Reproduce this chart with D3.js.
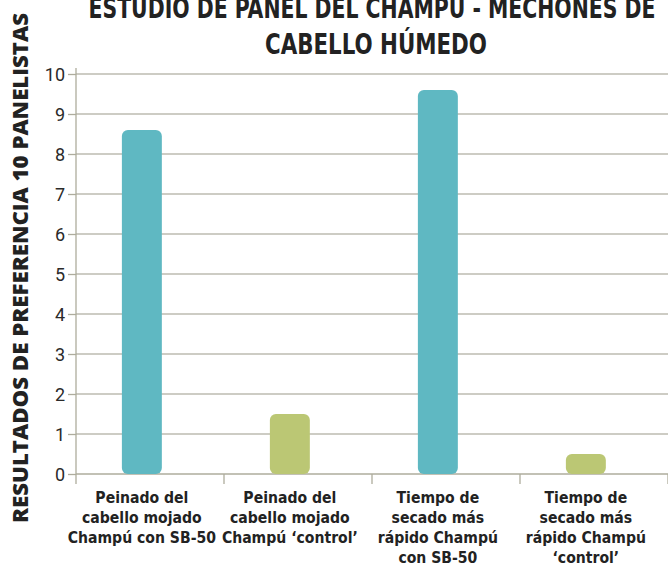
<!DOCTYPE html>
<html><head><meta charset="utf-8">
<script src="https://cdn.jsdelivr.net/npm/d3@7/dist/d3.min.js"></script>
<style>body{margin:0;background:#fff}svg{display:block}</style>
</head><body>
<script>
const categories = [
  ["Peinado del","cabello mojado","Champú con SB-50"],
  ["Peinado del","cabello mojado","Champú ‘control’"],
  ["Tiempo de","secado más","rápido Champú","con SB-50"],
  ["Tiempo de","secado más","rápido Champú","‘control’"]
];
const values = [8.6, 1.5, 9.6, 0.5];
const colors = ["#5fb8c2", "#bbc774", "#5fb8c2", "#bbc774"];
const yTicks = [0,1,2,3,4,5,6,7,8,9,10];
const titleLines = ["ESTUDIO DE PANEL DEL CHAMPÚ - MECHONES DE", "CABELLO HÚMEDO"];
const yTitle = "RESULTADOS DE PREFERENCIA 10 PANELISTAS";

const W = 668, H = 567;
const svg = d3.select("body").append("svg").attr("width", W).attr("height", H);
const mLeft = 76, mRight = 668, mTop = 74, mBottom = 474;
const ids = categories.map((c,i)=>i);
const x = d3.scaleBand().domain(ids).range([mLeft, mRight]);
const y = d3.scaleLinear().domain([0,10]).range([mBottom, mTop]);
const gridColor = "#bdbbb0";
const condensed = "'DejaVu Sans Condensed', 'Liberation Sans Narrow', sans-serif";

// grid
svg.append("g").selectAll("line").data(yTicks.filter(d=>d>0)).join("line")
  .attr("x1", mLeft).attr("x2", mRight).attr("y1", d=>y(d)).attr("y2", d=>y(d))
  .attr("stroke", gridColor).attr("stroke-width", 1.5);

// y axis
const ya = svg.append("g").attr("transform", `translate(${mLeft},0)`)
  .call(d3.axisLeft(y).tickValues(yTicks).tickSize(8).tickPadding(3));
ya.select(".domain").attr("stroke", "#aeac9c").attr("stroke-width", 1.3)
  .attr("d", `M0,${y(10)-6}V${mBottom}`);
ya.selectAll(".tick line").attr("stroke", "#aeac9c").attr("stroke-width", 1.3);
ya.selectAll(".tick text").attr("font-family", "Roboto, 'Open Sans', sans-serif")
  .attr("font-size", 18).attr("fill", "#2a2a2a").attr("dy", "0.35em");

// x axis
const xa = svg.append("g").attr("transform", `translate(0,${mBottom})`);
xa.append("line").attr("x1", mLeft).attr("x2", mRight).attr("stroke", "#aeac9c").attr("stroke-width", 1.5);
const bounds = ids.map(i=>x(i)).concat([x(ids[ids.length-1]) + x.bandwidth()]);
xa.selectAll("line.b").data(bounds).join("line").attr("class","b")
  .attr("x1", d=>d).attr("x2", d=>d).attr("y1", 0).attr("y2", 10)
  .attr("stroke", "#aeac9c").attr("stroke-width", 1.3);

// bars
const bw = x.bandwidth() * 0.27;
const off = x.bandwidth() * 0.31;
svg.append("g").selectAll("rect").data(values).join("rect")
  .attr("x", (d,i)=>x(i)+off).attr("width", bw)
  .attr("y", d=>y(d)).attr("height", d=>y(0)-y(d))
  .attr("rx", 6).attr("ry", 6)
  .attr("fill", (d,i)=>colors[i]);

// category labels (centred under bars)
const lab = svg.append("g");
categories.forEach((lines,i)=>{
  const cx = x(i) + off + bw/2;
  const t = lab.append("text").attr("x", cx).attr("y", 503)
    .attr("text-anchor","middle").attr("font-family", condensed)
    .attr("font-weight","bold").attr("font-size", 15.6).attr("fill","#222");
  lines.forEach((l,j)=>t.append("tspan").attr("x", cx).attr("dy", j?20:0).text(l));
});

// title
svg.append("text").attr("x", 372).attr("y", 18).attr("text-anchor","middle")
  .attr("font-family", condensed)
  .attr("font-weight","bold").attr("font-size", 29).attr("fill","#222")
  .attr("textLength", 567).attr("lengthAdjust","spacingAndGlyphs").text(titleLines[0]);
svg.append("text").attr("x", 376).attr("y", 54).attr("text-anchor","middle")
  .attr("font-family", condensed)
  .attr("font-weight","bold").attr("font-size", 29).attr("fill","#222")
  .attr("textLength", 222).attr("lengthAdjust","spacingAndGlyphs").text(titleLines[1]);

// y title
svg.append("text").attr("transform","translate(28,268) rotate(-90)")
  .attr("text-anchor","middle").attr("font-family","'Open Sans', sans-serif")
  .attr("font-weight","800").attr("font-size", 21).attr("fill","#222")
  .attr("textLength", 510).attr("lengthAdjust","spacingAndGlyphs").text(yTitle);
</script>
</body></html>
